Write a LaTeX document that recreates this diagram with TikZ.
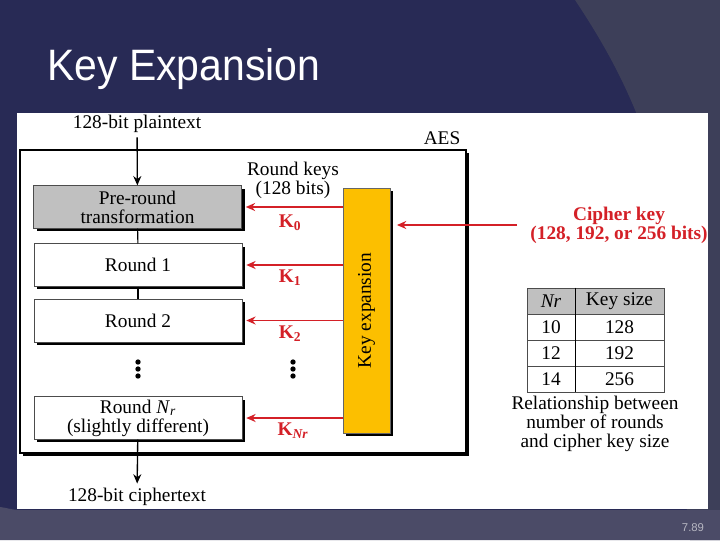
\documentclass[tikz,border=0pt]{standalone}
\usepackage{fontspec}
\setmainfont{Liberation Serif}
\newfontfamily\titlefont{Liberation Sans}
\usetikzlibrary{arrows.meta,shadows}
\definecolor{slidenavy}{HTML}{282A55}
\definecolor{slidegrey}{HTML}{3D3F59}
\definecolor{slidefoot}{HTML}{4B4B67}
\definecolor{keyred}{HTML}{D42027}
\definecolor{keyorange}{HTML}{FCBF00}
\definecolor{pregray}{HTML}{C0C0C0}

\begin{document}
\begin{tikzpicture}[
    x=0.75pt, y=-0.75pt,
    every node/.style={font=\fontsize{14.5}{14.3}\selectfont},
    % boxes of the cipher
    roundbox/.style={rectangle, draw=black!70, fill=white, minimum width=156pt, minimum height=32pt, align=center, inner sep=1pt,
        drop shadow={shadow xshift=2.3pt, shadow yshift=-2.3pt, opacity=1, fill=black}},
    prebox/.style={roundbox, fill=pregray, drop shadow={opacity=0}},
    keybox/.style={rectangle, draw=black!60, fill=keyorange, minimum width=35.25pt, minimum height=183.75pt,
        drop shadow={shadow xshift=2.3pt, shadow yshift=-2.3pt, opacity=1, fill=black}},
    aesframe/.style={rectangle, draw=black, line width=1.2pt, fill=white, minimum width=334.5pt, minimum height=227.25pt,
        drop shadow={shadow xshift=2.6pt, shadow yshift=-2.6pt, opacity=1, fill=black}},
    % table cells
    cell/.style={rectangle, draw=black!70, minimum height=19.5pt, inner sep=0pt},
    % connectors
    flow/.style={draw=black, line width=1pt, -{Stealth[length=7pt,width=6pt]}},
    link/.style={draw=black, line width=0.8pt},
    keyarrow/.style={draw=keyred, line width=1.3pt, -{Stealth[length=7pt,width=6pt]}},
    keylabel/.style={text=keyred, font=\fontsize{14.5}{14.3}\selectfont\bfseries},
    dot/.style={circle, fill=black, inner sep=0pt, minimum size=4pt}
]
\useasboundingbox (0,0) rectangle (720,540);

% slide background
\fill[slidenavy] (0,0) rectangle (720,540);
\fill[slidegrey] (575,0) .. controls (605,45) and (630,90) .. (650,150) -- (690,540) -- (720,540) -- (720,0) -- cycle;
\fill[slidefoot] (0,507) .. controls (8,508) and (12,510) .. (20,510) -- (720,510) -- (720,540) -- (0,540) -- cycle;
\node[anchor=base west, text=white, xscale=0.93, font=\titlefont\fontsize{33}{33}\selectfont] (title) at (43,80) {Key Expansion};
\node[text=slidefoot!40!white, font=\titlefont\fontsize{8.5}{9}\selectfont] (page) at (693,528) {7.89};

% figure
\fill[white] (17,113) rectangle (708,509);
\node[aesframe] (aes) at (243,301.5) {};
\node[anchor=base east] (aeslbl) at (465,144) {AES};

\node (plain) at (137,124) {128-bit plaintext};
\node[prebox] (pre) at (137.5,207) {Pre-round\\transformation};
\node[roundbox] (r1) at (138,265) {Round 1};
\node[roundbox] (r2) at (138,320.5) {Round 2};
\node[roundbox] (rN) at (138,418) {Round \textit{N}\textsubscript{\textit{r}}\\(slightly different)};
\node (cipher) at (137,497) {128-bit ciphertext};

\foreach \y in {362,369,376} {
    \node[dot] at (138,\y) {};
    \node[dot] at (293,\y) {};
}

\node[align=center] (rkeys) at (293,180) {Round keys\\(128 bits)};
\node[keybox] (kx) at (366.5,310.5) {};
\node[rotate=90] (kxlbl) at (kx) {Key expansion};

% round keys
\node[keylabel] (k0) at (290,223) {K\textsubscript{0}};
\node[keylabel] (k1) at (290,278) {K\textsubscript{1}};
\node[keylabel] (k2) at (290,334) {K\textsubscript{2}};
\node[keylabel] (kN) at (293,431) {K\textsubscript{\textit{Nr}}};

\draw[flow] (plain) -- (pre);
\draw[link] (pre) -- (r1);
\draw[link] (r1) -- (r2);
\draw[flow] (rN) -- (cipher);
\foreach \b in {pre,r1,r2,rN}
    \draw[keyarrow] (kx.west |- \b.east) -- ([xshift=3pt]\b.east);

% cipher key
\coordinate (ckin) at (517,225);
\node[keylabel, align=center] (cklbl) at (619,225) {Cipher key\\(128, 192, or 256 bits)};
\draw[keyarrow] (ckin) -- ([xshift=5pt]kx.east |- ckin);

% table of rounds
\node[cell, fill=pregray, minimum width=36pt] (nrh) at (551,301) {\textit{Nr}};
\node[cell, fill=pregray, minimum width=66.75pt] (ksh) at (619.5,301) {Key size};
\foreach \nr/\ks [count=\i] in {10/128,12/192,14/256} {
    \node[cell, minimum width=36pt] (nr\i) at (551,301+26*\i) {\nr};
    \node[cell, minimum width=66.75pt] (ks\i) at (619.5,301+26*\i) {\ks};
}
\draw[line width=1.1pt] (nrh.north east) -- (nr3.south east);
\node[align=center] (tblcap) at (595,424) {Relationship between\\number of rounds\\and cipher key size};

\end{tikzpicture}
\end{document}
